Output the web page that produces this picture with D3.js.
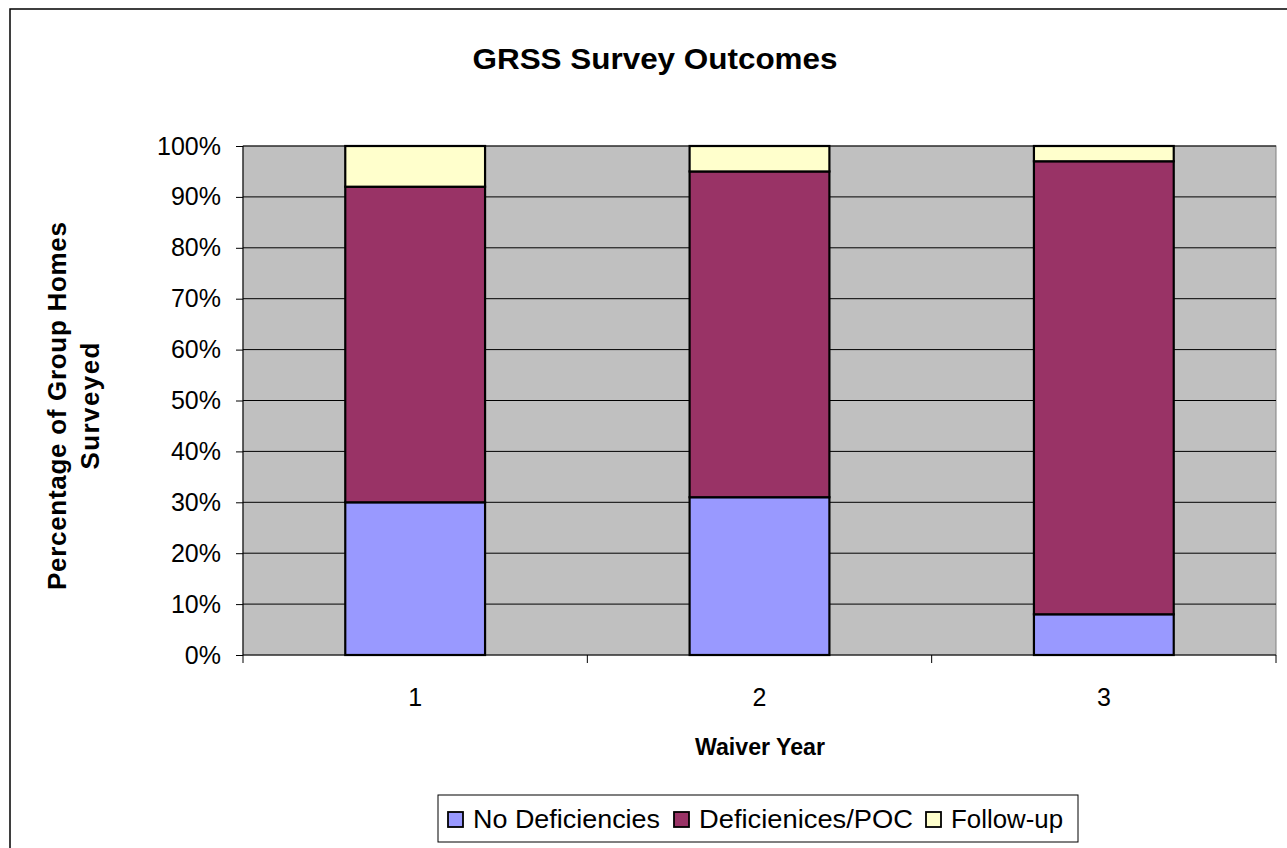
<!DOCTYPE html>
<html><head><meta charset="utf-8">
<script src="https://cdn.jsdelivr.net/npm/d3@7"></script>
<style>body{margin:0;background:#fff}svg{display:block;font-family:Arial,"Liberation Sans",sans-serif}</style>
</head><body>
<svg id="c" width="1287" height="848"></svg>
<script>
const categories = ["1","2","3"];
const seriesNames = ["No Deficiencies","Deficienices/POC","Follow-up"];
const noDeficiencies = [30, 31, 8];
const deficienciesPOC = [62, 64, 89];
const followUp = [8, 5, 3];
const yTicks = [0,10,20,30,40,50,60,70,80,90,100];
const colors = ["#9999FF","#993366","#FFFFCC"];

const svg = d3.select("#c");
const FF = "Arial, Liberation Sans, sans-serif";
// outer border
svg.append("rect").attr("x",10).attr("y",9).attr("width",1290).attr("height",850)
  .attr("fill","#fff").attr("stroke","#000").attr("stroke-width",1.5);

const L=243, R=1276, T=146, B=655;
const x = d3.scaleBand().domain(categories).range([L,R]).padding(0);
const y = d3.scaleLinear().domain([0,100]).range([B,T]);

svg.append("rect").attr("x",L).attr("y",T).attr("width",R-L).attr("height",B-T)
  .attr("fill","#C0C0C0").attr("stroke","#808080").attr("stroke-width",1);

// gridlines
svg.append("g").selectAll("line").data(yTicks.filter(d=>d>0)).join("line")
  .attr("x1",L).attr("x2",R).attr("y1",d=>y(d)).attr("y2",d=>y(d))
  .attr("stroke","#000").attr("stroke-width",1);

// stacked data
const rows = categories.map((c,i)=>({cat:c, s0:noDeficiencies[i], s1:deficienciesPOC[i], s2:followUp[i]}));
const stack = d3.stack().keys(["s0","s1","s2"])(rows);
const bw = x.bandwidth()*0.406;
stack.forEach((layer,li)=>{
  svg.append("g").selectAll("rect").data(layer).join("rect")
    .attr("x",d=>x(d.data.cat)+(x.bandwidth()-bw)/2)
    .attr("y",d=>y(d[1]))
    .attr("width",bw)
    .attr("height",d=>y(d[0])-y(d[1]))
    .attr("fill",colors[li]).attr("stroke","#000").attr("stroke-width",2.2);
});

// y axis
const yAxis = d3.axisLeft(y).tickValues(yTicks).tickFormat(d=>d+"%").tickSize(7).tickPadding(15);
const ya = svg.append("g").attr("transform",`translate(${L},0)`).call(yAxis);
ya.attr("font-size",null).attr("font-family",null);
ya.select(".domain").attr("stroke","#000").attr("d",`M0,${T}V${B}`);
ya.selectAll("text").style("font-size","25px").attr("fill","#000").style("font-family",FF);
ya.selectAll(".tick line").attr("stroke","#000");

// x axis
const xa = svg.append("g").attr("transform",`translate(0,${B})`);
xa.append("line").attr("x1",L).attr("x2",R).attr("y1",0).attr("y2",0).attr("stroke","#000");
const bounds = [L, ...categories.map(c=>x(c)+x.bandwidth())];
xa.selectAll("line.t").data(bounds).join("line").attr("class","t")
  .attr("x1",d=>d).attr("x2",d=>d).attr("y1",0).attr("y2",8).attr("stroke","#000");
xa.selectAll("text").data(categories).join("text")
  .attr("x",d=>x(d)+x.bandwidth()/2).attr("y",51)
  .attr("text-anchor","middle").style("font-size","25px").text(d=>d);

// titles
svg.append("text").attr("x",655).attr("y",69).attr("text-anchor","middle")
  .style("font-size","30px").attr("font-weight","bold")
  .attr("textLength",365).attr("lengthAdjust","spacingAndGlyphs").text("GRSS Survey Outcomes");
svg.append("text").attr("x",760).attr("y",755).attr("text-anchor","middle")
  .style("font-size","24px").attr("font-weight","bold")
  .attr("textLength",130).attr("lengthAdjust","spacingAndGlyphs").text("Waiver Year");
svg.append("text").attr("transform","translate(66,406) rotate(-90)")
  .attr("text-anchor","middle").style("font-size","26px").attr("font-weight","bold")
  .attr("textLength",368).attr("lengthAdjust","spacing").text("Percentage of Group Homes");
svg.append("text").attr("transform","translate(99,406) rotate(-90)")
  .attr("text-anchor","middle").style("font-size","26px").attr("font-weight","bold")
  .attr("textLength",127).attr("lengthAdjust","spacing").text("Surveyed");

// legend
const lg = svg.append("g");
lg.append("rect").attr("x",438).attr("y",795).attr("width",640).attr("height",47)
  .attr("fill","#fff").attr("stroke","#000").attr("stroke-width",1);
const legX = [448, 674, 926];
const legW = [187, 214, 112];
seriesNames.forEach((n,i)=>{
  lg.append("rect").attr("x",legX[i]).attr("y",812).attr("width",15).attr("height",15)
    .attr("fill",colors[i]).attr("stroke","#000").attr("stroke-width",1.8);
  lg.append("text").attr("x",legX[i]+25).attr("y",828).style("font-size","25px")
    .attr("textLength",legW[i]).attr("lengthAdjust","spacingAndGlyphs").text(n);
});
</script>
</body></html>
